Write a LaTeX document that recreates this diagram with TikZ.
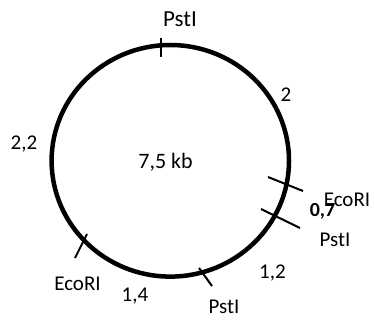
\documentclass[tikz,border=0pt]{standalone}
\usepackage{fontspec}
\setmainfont{Carlito}
\begin{document}
\begin{tikzpicture}[x=1pt,y=-1pt,
  lbl/.style={anchor=base,inner sep=0pt,font=\fontsize{21}{25}\selectfont},
  cut/.style={line width=2pt}]
\useasboundingbox (0,0) rectangle (374,320);
\pgfmathsetmacro{\cx}{170.3}
\pgfmathsetmacro{\cy}{160.8}
% plasmid ring
\draw[line width=4.5pt](\cx,\cy) ellipse [x radius=118.7pt, y radius=115.8pt];
% restriction sites
\foreach \a/\b in {{160.7,38}/{160.7,57},{268,177}/{303,191},{261,209}/{300,228},{199,268}/{212,286},{87,234}/{75,258}}{\draw[cut](\a)--(\b);}
% site names
\node[lbl,font=\fontsize{23}{27}\selectfont](pst1) at (180,26.7){PstI};
\foreach \x/\y/\a/\n in {347/206.7/EcoRI/eco1,335/246/PstI/pst2,224/313.3/PstI/pst3,77.5/290/EcoRI/eco2}{\draw(\x,\y)node[lbl](\n){\a};}
% fragment sizes
\foreach \x/\y/\a/\n in {286/101.7/2/f1,24/150/{2,2}/f2,272.5/278.3/{1,2}/f3,135/301.7/{1,4}/f4}{\draw(\x,\y)node[lbl](\n){\a};}
\node[lbl,font=\fontsize{20}{24}\selectfont\bfseries](f5) at (322.5,216.7){0,7};
\node[lbl,font=\fontsize{22}{26}\selectfont](size) at (165.6,168.3){7,5 kb};
\end{tikzpicture}
\end{document}
